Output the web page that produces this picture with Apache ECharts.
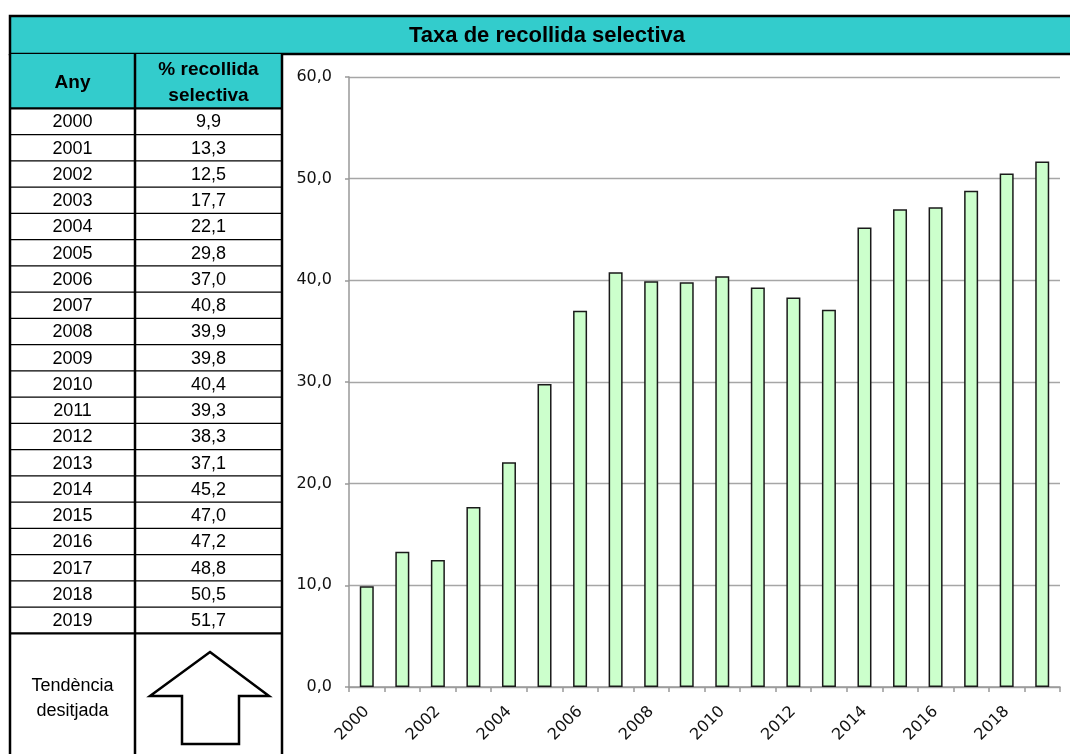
<!DOCTYPE html>
<html>
<head>
<meta charset="utf-8">
<title>Taxa de recollida selectiva</title>
<script src="https://cdn.jsdelivr.net/npm/echarts@6/dist/echarts.min.js"></script>
<style>
  html, body { margin: 0; padding: 0; background: #fff; }
  #chart { width: 1070px; height: 754px; }
</style>
</head>
<body>
<div id="chart"></div>
<script>
// Selective collection rate by year (%)
const years = ['2000','2001','2002','2003','2004','2005','2006','2007','2008','2009',
               '2010','2011','2012','2013','2014','2015','2016','2017','2018','2019'];
const rates = [9.9, 13.3, 12.5, 17.7, 22.1, 29.8, 37.0, 40.8, 39.9, 39.8,
               40.4, 39.3, 38.3, 37.1, 45.2, 47.0, 47.2, 48.8, 50.5, 51.7];
const yTicks = { min: 0, max: 60, interval: 10 };

const titleText = 'Taxa de recollida selectiva';
const headYear = 'Any';
const headRate = ['% recollida', 'selectiva'];
const trendLabel = ['Tendència', 'desitjada'];

const fmt = v => v.toFixed(1).replace('.', ',');

// Table layout
const TEAL = '#33CCCC';
const colL = 10, colM = 135, colR = 282;
const headTop = 54, rowTop = 108.3, rowH = 26.25;
const tableFont = '"Liberation Sans", Arial, sans-serif';
const axisFont = '"DejaVu Sans", Verdana, sans-serif';

const graphics = [];

// Title bar
graphics.push({
  type: 'rect', z: 10,
  shape: { x: colL, y: 16, width: 1090, height: 38 },
  style: { fill: TEAL, stroke: '#000', lineWidth: 2.5 }
});
graphics.push({
  type: 'text', z: 11, x: 547, y: 36,
  style: { text: titleText, font: 'bold 22px ' + tableFont, fill: '#000',
           align: 'center', verticalAlign: 'middle' }
});

// Header cells
graphics.push({
  type: 'rect', z: 10,
  shape: { x: colL, y: headTop, width: colR - colL, height: rowTop - headTop },
  style: { fill: TEAL }
});
graphics.push({
  type: 'text', z: 11, x: (colL + colM) / 2, y: 83,
  style: { text: headYear, font: 'bold 19px ' + tableFont, fill: '#000',
           align: 'center', verticalAlign: 'middle' }
});
headRate.forEach((t, i) => graphics.push({
  type: 'text', z: 11, x: (colM + colR) / 2, y: 70 + i * 26,
  style: { text: t, font: 'bold 19px ' + tableFont, fill: '#000',
           align: 'center', verticalAlign: 'middle' }
}));

// Data rows
years.forEach((yr, i) => {
  const cy = rowTop + rowH * i + rowH / 2;
  graphics.push({
    type: 'text', z: 11, x: (colL + colM) / 2, y: cy + 1,
    style: { text: yr, font: '18px ' + tableFont, fill: '#000',
             align: 'center', verticalAlign: 'middle' }
  });
  graphics.push({
    type: 'text', z: 11, x: (colM + colR) / 2, y: cy + 1,
    style: { text: fmt(rates[i]), font: '18px ' + tableFont, fill: '#000',
             align: 'center', verticalAlign: 'middle' }
  });
  if (i > 0) {
    graphics.push({
      type: 'line', z: 12,
      shape: { x1: colL, y1: rowTop + rowH * i, x2: colR, y2: rowTop + rowH * i },
      style: { stroke: '#000', lineWidth: 1.3 }
    });
  }
});

const tableBottom = rowTop + rowH * years.length;

// Header / body separators
[rowTop, tableBottom].forEach(y => graphics.push({
  type: 'line', z: 12,
  shape: { x1: colL, y1: y, x2: colR, y2: y },
  style: { stroke: '#000', lineWidth: 2.2 }
}));

// Column borders
[colL, colM, colR].forEach(x => graphics.push({
  type: 'line', z: 12,
  shape: { x1: x, y1: headTop, x2: x, y2: 760 },
  style: { stroke: '#000', lineWidth: 2.5 }
}));

// Desired trend row
trendLabel.forEach((t, i) => graphics.push({
  type: 'text', z: 11, x: (colL + colM) / 2, y: 686 + i * 25,
  style: { text: t, font: '18px ' + tableFont, fill: '#000',
           align: 'center', verticalAlign: 'middle' }
}));
graphics.push({
  type: 'polygon', z: 11,
  shape: { points: [[210, 652], [269, 696], [239, 696], [239, 744],
                    [182, 744], [182, 696], [150, 696]] },
  style: { fill: '#fff', stroke: '#000', lineWidth: 2.5, lineJoin: 'miter' }
});

const chart = echarts.init(document.getElementById('chart'));
chart.setOption({
  animation: false,
  backgroundColor: '#fff',
  grid: { left: 349, right: 10, top: 77, bottom: 67, containLabel: false },
  xAxis: {
    type: 'category',
    data: years,
    boundaryGap: true,
    axisLine: { show: true, lineStyle: { color: '#999', width: 1.5 } },
    axisTick: { show: true, interval: 0, length: 5, alignWithLabel: false,
                lineStyle: { color: '#999', width: 1.5 } },
    axisLabel: { interval: 1, rotate: 45, margin: 22, color: '#111',
                 fontFamily: axisFont, fontSize: 16 },
    splitLine: { show: false }
  },
  yAxis: {
    type: 'value',
    min: yTicks.min, max: yTicks.max, interval: yTicks.interval,
    axisLine: { show: true, lineStyle: { color: '#999', width: 1.5 } },
    axisTick: { show: true, length: 4, lineStyle: { color: '#999', width: 1.5 } },
    axisLabel: { margin: 17, color: '#111', fontFamily: axisFont, fontSize: 16,
                 formatter: v => fmt(v) },
    splitLine: { show: true, lineStyle: { color: '#a6a6a6', width: 1.3 } }
  },
  series: [{
    type: 'bar',
    data: rates,
    barWidth: 14,
    itemStyle: { color: '#CCFFCC', borderColor: '#1a1a1a', borderWidth: 1.5 }
  }],
  graphic: { elements: graphics }
});
</script>
</body>
</html>
